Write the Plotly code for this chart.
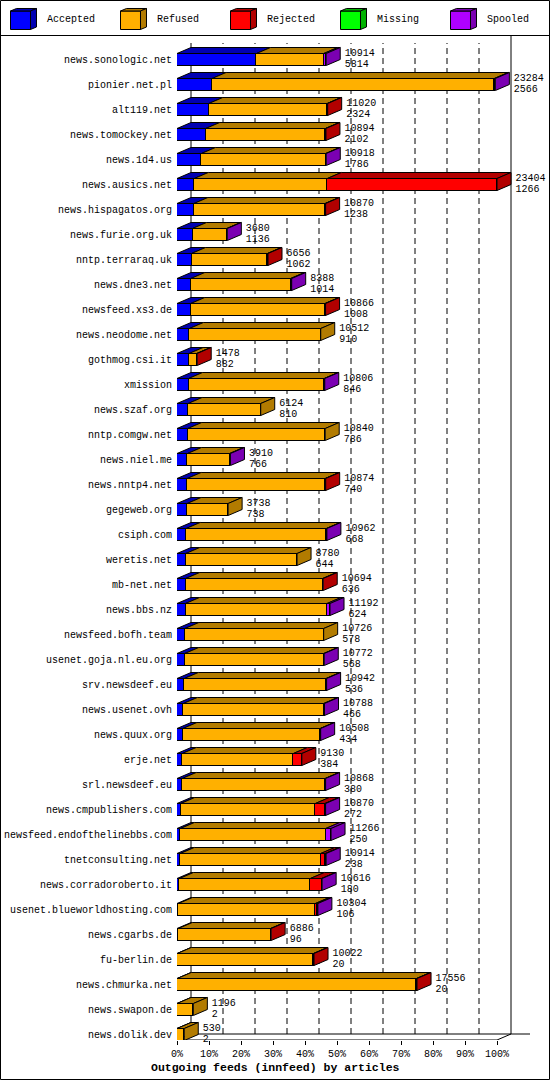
import plotly.graph_objects as go

## DATA ##
hosts = ['news.sonologic.net', 'pionier.net.pl', 'alt119.net', 'news.tomockey.net', 'news.1d4.us',
         'news.ausics.net', 'news.hispagatos.org', 'news.furie.org.uk', 'nntp.terraraq.uk', 'news.dne3.net',
         'newsfeed.xs3.de', 'news.neodome.net', 'gothmog.csi.it', 'xmission', 'news.szaf.org',
         'nntp.comgw.net', 'news.niel.me', 'news.nntp4.net', 'gegeweb.org', 'csiph.com',
         'weretis.net', 'mb-net.net', 'news.bbs.nz', 'newsfeed.bofh.team', 'usenet.goja.nl.eu.org',
         'srv.newsdeef.eu', 'news.usenet.ovh', 'news.quux.org', 'erje.net', 'srl.newsdeef.eu',
         'news.cmpublishers.com', 'newsfeed.endofthelinebbs.com', 'tnetconsulting.net', 'news.corradoroberto.it',
         'usenet.blueworldhosting.com', 'news.cgarbs.de', 'fu-berlin.de', 'news.chmurka.net', 'news.swapon.de',
         'news.dolik.dev']
totals = [10914, 23284, 11020, 10894, 10918, 23404, 10870, 3680, 6656, 8388,
          10866, 10512, 1478, 10806, 6124, 10840, 3910, 10874, 3738, 10962,
          8780, 10694, 11192, 10726, 10772, 10942, 10788, 10508, 9130, 10868,
          10870, 11266, 10914, 10616, 10304, 6886, 10022, 17556, 1196, 530]
accepted = [5814, 2566, 2324, 2102, 1786, 1266, 1238, 1136, 1062, 1014,
            1008, 910, 882, 846, 810, 786, 766, 740, 738, 668,
            644, 636, 624, 578, 568, 536, 466, 434, 384, 380,
            272, 250, 238, 180, 106, 96, 20, 20, 2, 2]
refused = [4920, 20638, 8656, 8752, 9092, 9726, 9592, 2504, 5554, 7294,
           9818, 9602, 556, 9920, 5314, 10054, 3084, 10094, 3000, 10254,
           8136, 10018, 10348, 10148, 10164, 10366, 10262, 10034, 8126, 10448,
           9846, 10626, 10271, 9571, 10012, 6750, 9962, 17496, 1194, 528]
rejected = [0, 0, 40, 40, 0, 12412, 40, 0, 40, 0,
            40, 0, 40, 0, 0, 0, 0, 40, 0, 0,
            0, 40, 0, 0, 0, 0, 0, 0, 620, 0,
            700, 0, 325, 825, 140, 40, 40, 40, 0, 0]
missing = [0] * 40
spooled = [180, 80, 0, 0, 40, 0, 0, 40, 0, 80,
           0, 0, 0, 40, 0, 0, 60, 0, 0, 40,
           0, 0, 220, 0, 40, 40, 60, 40, 0, 40,
           52, 390, 80, 40, 46, 0, 0, 0, 0, 0]
series_names = ['Accepted', 'Refused', 'Rejected', 'Missing', 'Spooled']
pct_ticks = [0, 10, 20, 30, 40, 50, 60, 70, 80, 90, 100]
title_text = 'Outgoing feeds (innfeed) by articles'

## STYLE ##
front_colors = ['#0000FF', '#FFB000', '#FF0000', '#00FF00', '#B000FF']
shade_colors = ['#0000B2', '#B27B00', '#B20000', '#00B200', '#7B00B2']
FONT = 'Liberation Mono'
W, H = 550, 1080
PX_L, PX_R = 177, 537      # plot area in pixels
PX_T, PX_B = 36, 1040
PX_FULL = 320              # pixels for 100%
ROW0, ROWSTEP = 59.5, 25   # pixel centre of first row, row pitch

series = [accepted, refused, rejected, missing, spooled]
n = len(hosts)
xmax = max(totals)
ux = xmax / PX_FULL
DX = 14 * ux               # 3d depth, in data units
DY = 6 / ROWSTEP
HALF = 6 / ROWSTEP
y_bottom = (PX_B - ROW0) / ROWSTEP
y_top = (PX_T - ROW0) / ROWSTEP
y_wall_top = (43 - ROW0) / ROWSTEP
floor_back = y_bottom - DY
rows = list(range(n))

fig = go.Figure()

## FRONT FACES ##
for name, vals, col in zip(series_names, series, front_colors):
    fig.add_trace(go.Bar(y=rows, x=[v if v > 0 else None for v in vals], orientation='h',
                         width=2 * HALF, marker=dict(color=col, line=dict(color='black', width=1)),
                         name=name, showlegend=False, hoverinfo='skip'))

## TOP AND SIDE FACES ##
tops = {c: ([], []) for c in shade_colors}
sides = {c: ([], []) for c in shade_colors}
for i in rows:
    start = 0
    last = None
    yt = i - HALF
    for vals, col in zip(series, shade_colors):
        v = vals[i]
        if v <= 0:
            continue
        end = start + v
        xs, ys = tops[col]
        xs += [start, end, end + DX, start + DX, start, None]
        ys += [yt, yt, yt - DY, yt - DY, yt, None]
        start = end
        last = col
    xs, ys = sides[last]
    xs += [start, start, start + DX, start + DX, start, None]
    ys += [yt, i + HALF, i + HALF - DY, yt - DY, yt, None]

for group in (tops, sides):
    for col, (xs, ys) in group.items():
        if xs:
            fig.add_trace(go.Scatter(x=xs, y=ys, mode='lines', fill='toself', fillcolor=col,
                                     line=dict(color='black', width=1), showlegend=False,
                                     hoverinfo='skip'))

## VALUE LABELS ##
label_x = [t + DX + 4.5 * ux for t in totals]
fig.add_trace(go.Scatter(x=label_x, y=[i - 0.26 for i in rows], mode='text',
                         text=[str(t) for t in totals], textposition='middle right',
                         textfont=dict(family=FONT, size=10, color='black'),
                         showlegend=False, hoverinfo='skip', cliponaxis=False))
fig.add_trace(go.Scatter(x=label_x, y=[i + 0.19 for i in rows], mode='text',
                         text=[str(a) for a in accepted], textposition='middle right',
                         textfont=dict(family=FONT, size=10, color='black'),
                         showlegend=False, hoverinfo='skip', cliponaxis=False))

## GRID AND 3D FRAME ##
shapes = []
for p in pct_ticks[1:-1]:
    xv = xmax * p / 100 + DX
    shapes.append(dict(type='line', xref='x', yref='y', x0=xv, x1=xv, y0=floor_back, y1=y_wall_top,
                       line=dict(color='black', width=1, dash='6px,4px'), layer='below'))
frame = [
    (DX, floor_back, DX, y_wall_top),
    (xmax + DX, floor_back, xmax + DX, y_top),
    (0, y_bottom, xmax, y_bottom),
    (xmax, y_bottom, xmax + DX, floor_back),
    (0, y_bottom, DX, floor_back),
    (DX, floor_back, xmax + DX + 19 * ux, floor_back),
]
for x0, y0, x1, y1 in frame:
    shapes.append(dict(type='line', xref='x', yref='y', x0=x0, y0=y0, x1=x1, y1=y1,
                       line=dict(color='black', width=1), layer='below'))

## LEGEND (3D CUBES) ##
def px(x, y):
    return x / W, 1 - y / H

annotations = []
for k, (name, fc, sc) in enumerate(zip(series_names, front_colors, shade_colors)):
    x0 = 10.5 + 110 * k
    fx0, fy0 = px(x0, 11)
    fx1, fy1 = px(x0 + 20, 29.5)
    shapes.append(dict(type='rect', xref='paper', yref='paper', x0=fx0, y0=fy0, x1=fx1, y1=fy1,
                       fillcolor=fc, line=dict(color='black', width=1)))
    top = [px(x0, 11), px(x0 + 20, 11), px(x0 + 26, 8.5), px(x0 + 6, 8.5)]
    side = [px(x0 + 20, 11), px(x0 + 20, 29.5), px(x0 + 26, 27), px(x0 + 26, 8.5)]
    for poly in (top, side):
        path = 'M ' + ' L '.join(f'{a:.5f},{b:.5f}' for a, b in poly) + ' Z'
        shapes.append(dict(type='path', xref='paper', yref='paper', path=path,
                           fillcolor=sc, line=dict(color='black', width=1)))
    lx, ly = px(x0 + 34, 20)
    annotations.append(dict(text=name, x=lx, y=ly, xref='paper', yref='paper', xanchor='left',
                            yanchor='middle', showarrow=False,
                            font=dict(family=FONT, size=10, color='black')))

## BORDER AND LEGEND SEPARATOR ##
bx0, by0 = px(0.5, 0.5)
bx1, by1 = px(549.5, 1079.5)
shapes.append(dict(type='rect', xref='paper', yref='paper', x0=bx0, y0=by0, x1=bx1, y1=by1,
                   line=dict(color='black', width=1)))
sx0, sy = px(0, 35.5)
sx1, _ = px(550, 35.5)
shapes.append(dict(type='line', xref='paper', yref='paper', x0=sx0, y0=sy, x1=sx1, y1=sy,
                   line=dict(color='black', width=1)))

tx, ty = px(275, 1067)
annotations.append(dict(text=f'<b>{title_text}</b>', x=tx, y=ty, xref='paper', yref='paper',
                        xanchor='center', yanchor='middle', showarrow=False,
                        font=dict(family=FONT, size=11.5, color='black')))

fig.update_layout(
    width=W, height=H, margin=dict(l=0, r=0, t=0, b=0),
    paper_bgcolor='white', plot_bgcolor='white', barmode='stack', bargap=0,
    font=dict(family=FONT, size=10, color='black'),
    shapes=shapes, annotations=annotations, showlegend=False,
)
## NO AUTOMARGIN: IT WOULD PUSH THE PLOT AREA AND BREAK THE PIXEL LAYOUT ##
fig.update_xaxes(domain=[PX_L / W, PX_R / W], range=[0, (PX_R - PX_L) * ux], automargin=False,
                 tickmode='array', tickvals=[xmax * p / 100 for p in pct_ticks],
                 ticktext=[f'{p}%' for p in pct_ticks], ticks='outside', ticklen=4,
                 tickcolor='black', showgrid=False, zeroline=False, showline=False,
                 tickfont=dict(family=FONT, size=10))
fig.update_yaxes(domain=[1 - PX_B / H, 1 - PX_T / H], range=[y_bottom, y_top], automargin=False,
                 tickmode='array', tickvals=rows, ticktext=hosts, ticks='',
                 showgrid=False, zeroline=False, showline=False, ticklabelstandoff=4,
                 tickfont=dict(family=FONT, size=10))

## THE PAGE BODY HAS A DEFAULT MARGIN, DROP IT SO THE CHART SITS AT THE WINDOW EDGE ##
fig.write_html('out.html', config={'displayModeBar': False},
               post_script="document.body.style.margin='0';")
